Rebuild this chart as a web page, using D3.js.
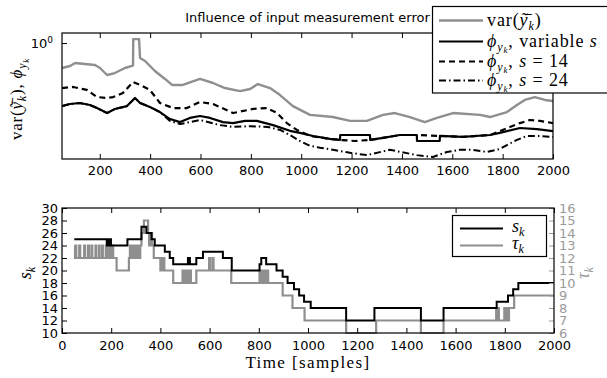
<!DOCTYPE html>
<html><head><meta charset="utf-8">
<script src="https://cdn.jsdelivr.net/npm/d3@7"></script>
<style>body{margin:0;background:#fff}svg{display:block}</style>
</head><body>
<svg id="c" width="607" height="378"></svg>
<script>
// ---------- DATA ----------
const titleText = "Influence of input measurement error";
const topXTicks = [200,400,600,800,1000,1200,1400,1600,1800,2000];
const topYTicks = [1];
const bottomXTicks = [0,200,400,600,800,1000,1200,1400,1600,1800,2000];
const sTicks = [10,12,14,16,18,20,22,24,26,28,30];
const tauTicks = [6,7,8,9,10,11,12,13,14,15,16];

// var(y~) (grey)
const varSamples = [50,82,102,141,181,201,229,260,300,328,332,333,356,360,380,419,459,487,530,598,650,697,757,797,828,876,916,967,1035,1126,1194,1261,1325,1372,1432,1491,1539,1603,1710,1750,1817,1857,1888,1928,1968,2000];
const varValues  = [0.609,0.634,0.673,0.659,0.647,0.609,0.530,0.551,0.609,0.634,0.640,1.08,1.08,0.743,0.700,0.574,0.490,0.435,0.435,0.490,0.452,0.409,0.385,0.401,0.443,0.409,0.356,0.286,0.240,0.230,0.213,0.213,0.240,0.249,0.230,0.208,0.226,0.249,0.240,0.230,0.254,0.292,0.323,0.342,0.323,0.316];

// phi, variable s (solid)
const phiVarSamples = [50,82,121,161,189,229,260,308,340,360,399,439,479,519,558,598,638,689,729,777,824,888,955,995,1047,1114,1154,1155,1273,1274,1325,1392,1459,1460,1550,1551,1642,1750,1789,1869,1936,2000];
const phiVarValues  = [0.286,0.298,0.304,0.292,0.275,0.249,0.270,0.286,0.336,0.304,0.281,0.254,0.221,0.208,0.226,0.235,0.226,0.208,0.204,0.213,0.213,0.196,0.175,0.168,0.158,0.149,0.146,0.161,0.161,0.146,0.152,0.161,0.161,0.143,0.143,0.158,0.155,0.161,0.168,0.185,0.181,0.174];

// phi, s = 14 (dashed)
const phi14Samples = [50,94,149,189,229,253,292,332,360,399,439,491,546,598,650,729,808,864,904,943,983,1035,1114,1154,1213,1273,1325,1392,1459,1551,1642,1750,1789,1829,1869,1908,1948,2000];
const phi14Values  = [0.409,0.418,0.394,0.342,0.336,0.342,0.371,0.461,0.435,0.394,0.304,0.275,0.275,0.310,0.298,0.249,0.270,0.275,0.249,0.204,0.178,0.158,0.149,0.146,0.143,0.146,0.152,0.161,0.161,0.158,0.155,0.161,0.174,0.189,0.204,0.217,0.213,0.204];

// phi, s = 24 (dash-dot)
const phi24Samples = [50,82,121,161,189,229,260,308,340,360,399,439,479,519,598,677,729,797,868,916,955,995,1035,1075,1126,1194,1261,1352,1459,1523,1579,1630,1682,1738,1789,1817,1857,1896,1948,2000];
const phi24Values  = [0.286,0.298,0.304,0.292,0.275,0.249,0.270,0.286,0.336,0.304,0.281,0.254,0.213,0.200,0.217,0.196,0.189,0.192,0.189,0.178,0.161,0.143,0.130,0.125,0.120,0.113,0.108,0.120,0.108,0.104,0.115,0.120,0.120,0.115,0.122,0.132,0.146,0.158,0.158,0.155];

// s_k (black step)
const sSamples = [50,182,185,188,190,193,196,199,266,323,343,364,377,418,438,452,512,520,546,573,654,690,803,810,830,872,897,917,943,964,984,1011,1155,1270,1459,1551,1767,1813,1834,1855,2000];
const sValues  = [25,24,25,24,25,24,25,24,25,27,26,25,24,23,22,21,22,21,22,23,22,20,21,22,21,20,19,18,17,16,15,14,12,14,12,14,15,16,17,18,18];

// tau_k (grey step)
const tauSamples = [50,53,55,58,70,74,90,94,106,110,120,123,136,139,150,153,163,166,178,181,184,187,190,193,196,199,202,208,222,272,276,279,282,285,288,291,294,297,300,303,306,309,318,323,333,350,354,358,360,364,366,373,400,404,408,412,416,452,490,493,496,499,502,505,508,511,514,517,520,524,546,598,602,612,616,688,803,807,811,815,819,823,827,831,835,838,897,937,986,1155,1277,1459,1551,1765,1768,1772,1776,1798,1802,1810,1813,1817,1838,2000];
const tauValues  = [13,12,13,12,13,12,13,12,13,12,13,12,13,12,13,12,13,12,13,12,13,12,13,12,13,12,13,12,11,12,13,12,13,12,13,12,13,12,13,12,13,12,13,14,15,14,13,14,13,14,13,12,11,12,11,12,11,10,11,10,11,10,11,10,11,10,11,10,11,10,11,12,11,12,11,10,11,10,11,10,11,10,11,10,11,10,9,8,7,6,7,6,7,8,7,8,7,8,7,8,7,8,9,9];

// ---------- DRAW ----------
const svg = d3.select("#c");
const SANS = "'DejaVu Sans', Verdana, sans-serif";
const SERIF = "'Liberation Serif', 'Times New Roman', serif";
const GREY = "#8f8f8f";
const GREYTXT = "#9a9a9a";

const T = {l:62, r:553, t:33, b:159};
const B = {l:62, r:554, t:208, b:333};

const xTop = d3.scaleLinear().domain([50,2000]).range([T.l,T.r]);
const yTop = d3.scaleLog().domain([0.1,1.22]).range([T.b,T.t]);
const xBot = d3.scaleLinear().domain([0,2000]).range([B.l,B.r]);
const yS = d3.scaleLinear().domain([10,30]).range([B.b,B.t]);
const yTau = d3.scaleLinear().domain([6,16]).range([B.b,B.t]);

const defs = svg.append("defs");
defs.append("clipPath").attr("id","clipT").append("rect").attr("x",T.l).attr("y",T.t).attr("width",T.r-T.l).attr("height",T.b-T.t);
defs.append("clipPath").attr("id","clipB").append("rect").attr("x",B.l).attr("y",B.t-2).attr("width",B.r-B.l).attr("height",B.b-B.t+4);

function zip(a,b){return a.map((v,i)=>[v,b[i]]);}

// Title
svg.append("text").attr("x",(T.l+T.r)/2).attr("y",22).attr("text-anchor","middle")
  .attr("font-family",SANS).attr("font-size",13).text(titleText);

// ---- Top plot ----
const gT = svg.append("g");
const lineT = d3.line().x(d=>xTop(d[0])).y(d=>yTop(d[1]));
const gTL = gT.append("g").attr("clip-path","url(#clipT)").attr("fill","none").attr("stroke-linejoin","round");
gTL.append("path").attr("d",lineT(zip(varSamples,varValues))).attr("stroke",GREY).attr("stroke-width",2.4);
gTL.append("path").attr("d",lineT(zip(phi24Samples,phi24Values))).attr("stroke","#000").attr("stroke-width",2).attr("stroke-dasharray","7,3,1.5,3");
gTL.append("path").attr("d",lineT(zip(phi14Samples,phi14Values))).attr("stroke","#000").attr("stroke-width",2.2).attr("stroke-dasharray","6,4");
gTL.append("path").attr("d",lineT(zip(phiVarSamples,phiVarValues))).attr("stroke","#000").attr("stroke-width",2.2);

function styleAxis(g, color){
  g.select(".domain").remove();
  g.selectAll(".tick line").attr("stroke",color||"#000");
  g.selectAll(".tick text").attr("font-family",SANS).attr("font-size",13).attr("fill",color||"#000");
}
gT.append("g").attr("transform",`translate(0,${T.b})`)
  .call(d3.axisBottom(xTop).tickValues(topXTicks).tickSize(-5).tickPadding(7).tickFormat(d3.format("d")))
  .call(g=>styleAxis(g));
gT.append("g").attr("transform",`translate(0,${T.t})`)
  .call(d3.axisTop(xTop).tickValues(topXTicks).tickSize(-5).tickFormat(""))
  .call(g=>styleAxis(g));
gT.append("g").attr("transform",`translate(${T.l},0)`)
  .call(d3.axisLeft(yTop).tickValues(topYTicks).tickSize(-5).tickPadding(9).tickFormat(()=>"10"))
  .call(g=>{styleAxis(g);
    g.selectAll(".tick text").append("tspan").attr("dy","-0.5em").attr("font-size",9).text("0");});
gT.append("rect").attr("x",T.l).attr("y",T.t).attr("width",T.r-T.l).attr("height",T.b-T.t)
  .attr("fill","none").attr("stroke","#000").attr("stroke-width",1.2);

// math text helper
function mtext(parent, x, y, parts, attrs){
  const t = parent.append("text").attr("x",x).attr("y",y).attr("font-family",SERIF);
  if(attrs) Object.entries(attrs).forEach(([k,v])=>t.attr(k,v));
  parts.forEach(p=>{
    const s = t.append("tspan").text(p.t);
    if(p.i) s.attr("font-style","italic");
    if(p.fs) s.attr("font-size",p.fs);
    if(p.dy) s.attr("dy",p.dy);
  });
  return t;
}
const PHI = [{t:"ϕ",i:1},{t:"y",i:1,fs:12,dy:4},{t:"k",i:1,fs:9,dy:2.5}];

// y label top
mtext(svg, 0, 0, [{t:"var("},{t:"ỹ̄",i:1},{t:"k",i:1,fs:12,dy:4},{t:"), ",dy:-4},
  {t:"ϕ",i:1},{t:"y",i:1,fs:12,dy:4},{t:"k",i:1,fs:9,dy:2.5}],
  {"font-size":17,"letter-spacing":0.8,"text-anchor":"middle","transform":"translate(22,99) rotate(-90)"});

// top legend
const lg = svg.append("g");
lg.append("rect").attr("x",432.5).attr("y",6.5).attr("width",190).attr("height",86.5)
  .attr("fill","#fff").attr("stroke","#000").attr("stroke-width",1.2);
const legRows = [
  {y:20.5, stroke:GREY, w:2.4, dash:null, parts:[{t:"var("},{t:"ỹ̄",i:1},{t:"k",i:1,fs:12,dy:4},{t:")",dy:-4}]},
  {y:41.5, stroke:"#000", w:2.2, dash:null, parts:[...PHI,{t:", variable ",dy:-6.5},{t:"s",i:1}]},
  {y:61.5, stroke:"#000", w:2.2, dash:"6,4", parts:[...PHI,{t:",  ",dy:-6.5},{t:"s",i:1},{t:" = 14"}]},
  {y:80.5, stroke:"#000", w:2, dash:"7,3,1.5,3", parts:[...PHI,{t:",  ",dy:-6.5},{t:"s",i:1},{t:" = 24"}]}
];
legRows.forEach(r=>{
  const l = lg.append("line").attr("x1",439).attr("x2",483).attr("y1",r.y).attr("y2",r.y)
    .attr("stroke",r.stroke).attr("stroke-width",r.w);
  if(r.dash) l.attr("stroke-dasharray",r.dash);
  mtext(lg, 487, r.y+5, r.parts, {"font-size":18,"letter-spacing":0.9});
});

// ---- Bottom plot ----
const gB = svg.append("g");
const stepLine = (ys)=>d3.line().x(d=>xBot(d[0])).y(d=>ys(d[1])).curve(d3.curveStepAfter);
const gBL = gB.append("g").attr("clip-path","url(#clipB)").attr("fill","none");
gBL.append("path").attr("d",stepLine(yTau)(zip(tauSamples,tauValues))).attr("stroke",GREY).attr("stroke-width",2.2);
gBL.append("path").attr("d",stepLine(yS)(zip(sSamples,sValues))).attr("stroke","#000").attr("stroke-width",2);

gB.append("g").attr("transform",`translate(0,${B.b})`)
  .call(d3.axisBottom(xBot).tickValues(bottomXTicks).tickSize(-5).tickPadding(8).tickFormat(d3.format("d")))
  .call(g=>styleAxis(g));
gB.append("g").attr("transform",`translate(0,${B.t})`)
  .call(d3.axisTop(xBot).tickValues(bottomXTicks).tickSize(-5).tickFormat(""))
  .call(g=>styleAxis(g));
gB.append("g").attr("transform",`translate(${B.l},0)`)
  .call(d3.axisLeft(yS).tickValues(sTicks).tickSize(-5).tickPadding(4).tickFormat(d3.format("d")))
  .call(g=>styleAxis(g));
gB.append("g").attr("transform",`translate(${B.r},0)`)
  .call(d3.axisRight(yTau).tickValues(tauTicks).tickSize(-5).tickPadding(5).tickFormat(d3.format("d")))
  .call(g=>styleAxis(g, GREYTXT));
gB.append("rect").attr("x",B.l).attr("y",B.t).attr("width",B.r-B.l).attr("height",B.b-B.t)
  .attr("fill","none").attr("stroke","#000").attr("stroke-width",1.2);

// bottom legend
const lb = svg.append("g");
lb.append("rect").attr("x",452.5).attr("y",215.5).attr("width",94).attr("height",41)
  .attr("fill","#fff").attr("stroke","#000").attr("stroke-width",1.2);
lb.append("line").attr("x1",460).attr("x2",503).attr("y1",228.5).attr("y2",228.5).attr("stroke","#000").attr("stroke-width",2);
lb.append("line").attr("x1",460).attr("x2",503).attr("y1",245.5).attr("y2",245.5).attr("stroke",GREY).attr("stroke-width",2.2);
mtext(lb, 512, 232, [{t:"s",i:1},{t:"k",i:1,fs:12,dy:4}], {"font-size":18});
mtext(lb, 512, 249, [{t:"τ",i:1},{t:"k",i:1,fs:12,dy:4}], {"font-size":18});

// axis labels
mtext(svg, 0, 0, [{t:"s",i:1},{t:"k",i:1,fs:12,dy:4}], {"font-size":18,"text-anchor":"middle","transform":"translate(31,273) rotate(-90)"});
mtext(svg, 0, 0, [{t:"τ",i:1},{t:"k",i:1,fs:12,dy:4}], {"font-size":18,"text-anchor":"middle","fill":GREYTXT,"transform":"translate(589,273) rotate(-90)"});
svg.append("text").attr("x",(B.l+B.r)/2).attr("y",368).attr("text-anchor","middle")
  .attr("font-family",SERIF).attr("font-size",17).attr("letter-spacing",1.4).text("Time [samples]");
</script>
</body></html>
